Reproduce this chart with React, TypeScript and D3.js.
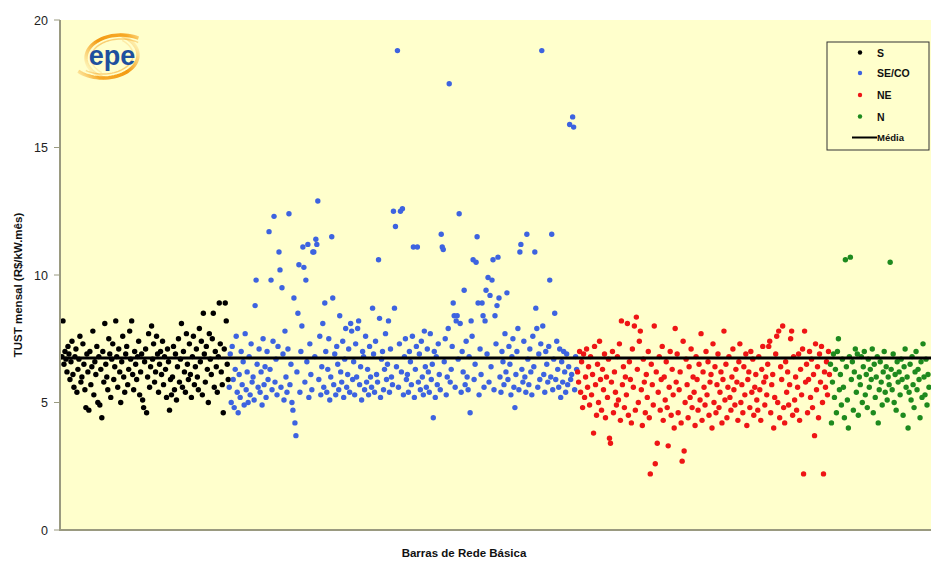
import React from "react";
import * as d3 from "d3";

const seriesNames = ["S", "SE/CO", "NE", "N"];
const seriesColors = ["#000000", "#3d63e0", "#ee1515", "#1e8a1e"];
const media = 6.75;
const yTicks = [0, 5, 10, 15, 20];

const sValues = [
  6.8, 8.2, 6.5, 7.0, 6.7, 6.2, 7.2, 6.9, 5.9, 6.6,
  7.4, 6.1, 5.6, 6.8, 7.1, 5.4, 6.3, 6.7, 7.6, 5.8,
  6.0, 7.3, 6.5, 5.5, 4.8, 6.9, 6.2, 4.7, 7.0, 5.7,
  6.4, 7.8, 5.3, 6.6, 6.1, 7.2, 5.0, 6.8, 4.9, 6.3,
  4.4, 7.0, 5.8, 8.1, 6.5, 6.0, 5.5, 7.5, 6.9, 5.2,
  6.7, 7.3, 5.9, 6.4, 8.2, 6.8, 5.6, 7.1, 6.2, 5.0,
  6.6, 7.6, 6.0, 5.4, 6.9, 7.2, 5.7, 6.3, 7.8, 6.7,
  8.2, 6.1, 5.5, 7.0, 6.5, 5.9, 6.8, 7.4, 5.3, 6.2,
  6.9, 5.1, 4.8, 6.6, 7.1, 4.6, 6.0, 7.7, 5.6, 6.4,
  8.0, 6.7, 7.3, 5.8, 6.2, 7.6, 6.9, 5.4, 6.5, 7.0,
  6.1, 7.4, 5.7, 6.8, 6.3, 5.2, 7.1, 6.6, 4.7, 5.9,
  5.3, 6.0, 7.2, 5.5, 6.9, 5.1, 6.4, 7.5, 5.8, 6.7,
  8.1, 5.6, 7.0, 6.2, 5.4, 7.7, 6.5, 5.9, 7.3, 6.1,
  5.2, 6.8, 7.6, 5.7, 6.4, 7.1, 6.0, 5.5, 7.9, 6.6,
  7.4, 5.3, 8.5, 6.9, 5.8, 7.2, 6.3, 5.0, 7.7, 6.7,
  6.1, 7.5, 8.5, 5.6, 7.0, 6.4, 5.4, 6.8, 8.9, 7.3,
  6.2, 5.7, 4.6, 7.1, 8.9, 8.2, 6.5, 5.9,
];

const seValues = [
  5.6, 6.9, 5.0, 7.2, 5.9, 4.8, 6.3, 7.6, 5.4, 4.6,
  6.1, 5.2, 7.0, 5.7, 6.6, 4.9, 7.7, 5.5, 6.2, 5.0,
  6.8, 5.3, 7.3, 5.8, 6.0, 5.1, 8.8, 9.8, 6.5, 5.6,
  7.1, 5.4, 6.2, 4.9, 7.5, 5.7, 6.4, 5.2, 7.0, 5.9,
  11.7, 6.3, 9.8, 5.5, 7.4, 12.3, 5.8, 6.7, 5.3, 7.2,
  10.9, 10.2, 5.6, 9.5, 6.9, 5.1, 7.8, 6.0, 5.4, 7.1,
  12.4, 5.7, 6.5, 5.0, 4.7, 9.1, 4.2, 3.7, 6.2, 8.5,
  10.4, 5.4, 7.0, 8.0, 11.1, 10.3, 5.8, 9.8, 6.6, 11.2,
  5.2, 7.3, 6.1, 5.5, 10.9, 10.9, 6.8, 11.4, 11.2, 12.9,
  5.9, 7.6, 5.3, 6.4, 8.1, 5.6, 8.9, 7.0, 5.4, 6.3,
  7.5, 5.1, 6.0, 11.5, 9.1, 5.7, 6.9, 5.3, 7.2, 6.5,
  5.5, 8.4, 6.2, 5.8, 7.4, 5.2, 6.7, 7.9, 5.6, 6.1,
  7.1, 5.4, 8.1, 7.8, 5.9, 6.6, 5.3, 7.3, 6.0, 7.9,
  8.2, 5.7, 6.4, 5.1, 7.0, 6.8, 5.5, 7.6, 5.8, 6.3,
  5.3, 7.2, 6.0, 5.6, 8.7, 6.9, 5.4, 7.4, 6.1, 5.8,
  10.6, 8.3, 5.2, 6.7, 7.0, 5.5, 6.3, 7.7, 5.9, 6.5,
  8.2, 5.4, 7.1, 6.0, 5.7, 12.5, 8.7, 11.9, 6.4, 18.8,
  5.6, 7.3, 12.5, 6.2, 12.6, 5.3, 6.8, 7.5, 5.9, 6.1,
  5.4, 7.0, 6.6, 5.7, 7.6, 11.1, 5.2, 6.3, 7.2, 11.1,
  5.8, 6.9, 5.5, 7.4, 6.0, 5.3, 7.8, 6.4, 5.6, 7.1,
  6.2, 5.4, 7.7, 5.9, 6.5, 4.4, 7.0, 5.2, 6.8, 5.7,
  7.3, 6.1, 5.5, 11.6, 11.1, 11.0, 6.6, 7.5, 5.3, 6.0,
  7.9, 17.5, 5.8, 6.3, 7.2, 8.9, 8.4, 5.6, 8.2, 8.4,
  6.7, 12.4, 8.1, 5.4, 7.0, 6.2, 9.4, 5.7, 7.4, 6.0,
  5.5, 6.8, 4.6, 8.2, 7.6, 10.6, 5.9, 6.5, 10.5, 11.5,
  8.9, 5.3, 7.1, 6.1, 8.9, 8.4, 5.6, 8.2, 9.4, 6.9,
  9.9, 5.8, 9.2, 6.4, 9.8, 10.6, 5.5, 8.4, 7.3, 8.8,
  10.7, 9.1, 6.0, 5.4, 7.0, 6.6, 5.7, 7.7, 6.2, 9.3,
  5.9, 7.2, 6.5, 5.3, 6.8, 7.5, 5.6, 4.8, 6.1, 7.0,
  7.9, 5.5, 10.9, 11.2, 6.3, 5.8, 7.4, 6.0, 5.4, 11.6,
  6.7, 5.7, 7.1, 6.2, 5.3, 7.6, 6.4, 10.9, 8.7, 7.9,
  5.6, 6.9, 5.9, 7.3, 18.8, 8.0, 6.1, 5.4, 7.0, 6.5,
  5.8, 7.2, 9.8, 6.0, 11.6, 5.5, 6.7, 8.5, 5.9, 7.4,
  6.3, 5.6, 7.1, 5.2, 6.6, 5.8, 7.0, 6.2, 5.4, 6.9,
  5.7, 6.4, 15.9, 5.9, 6.1, 16.2, 15.8, 5.5, 6.8, 6.3,
];

const neValues = [
  6.2, 5.8, 7.0, 5.4, 6.6, 4.8, 6.9, 5.2, 6.0, 7.1,
  5.6, 6.4, 4.9, 6.8, 5.3, 6.1, 3.8, 7.2, 5.7, 4.5,
  6.5, 5.0, 7.4, 5.9, 4.7, 6.3, 5.5, 6.9, 4.4, 6.0,
  5.2, 6.7, 3.6, 3.4, 5.8, 7.0, 4.6, 6.2, 5.4, 4.9,
  6.8, 5.1, 7.3, 4.3, 8.2, 5.7, 6.4, 4.8, 6.0, 5.3,
  8.1, 4.5, 6.6, 5.9, 4.2, 7.1, 5.6, 8.0, 4.7, 8.35,
  6.3, 5.0, 7.4, 7.8, 5.5, 4.1, 6.7, 5.8, 4.6, 6.1,
  5.2, 7.0, 4.4, 2.2, 6.5, 5.7, 4.9, 8.0, 2.6, 6.2,
  3.4, 5.4, 6.8, 4.7, 5.9, 7.2, 4.3, 6.0, 5.1, 6.6,
  4.8, 3.3, 5.6, 7.0, 4.5, 6.3, 5.3, 4.0, 7.9, 5.8,
  6.9, 4.6, 5.5, 6.2, 4.2, 2.7, 7.4, 3.1, 5.0, 6.7,
  5.7, 4.4, 6.4, 5.2, 7.1, 4.8, 6.0, 5.4, 4.1, 6.8,
  5.9, 4.7, 6.5, 5.1, 7.7, 4.3, 6.2, 5.6, 4.9, 7.0,
  5.3, 6.6, 4.5, 5.8, 6.1, 4.0, 7.3, 5.0, 6.4, 4.6,
  5.7, 6.9, 4.8, 5.4, 6.2, 4.2, 5.9, 7.8, 5.1, 6.5,
  4.4, 5.6, 6.8, 5.2, 4.7, 6.0, 7.1, 5.5, 4.9, 6.3,
  5.8, 4.3, 6.6, 7.3, 5.0, 5.7, 4.6, 6.4, 5.3, 6.9,
  4.1, 5.9, 6.2, 4.8, 7.0, 5.4, 6.7, 4.5, 5.6, 6.1,
  5.1, 4.7, 6.8, 5.5, 4.3, 6.3, 7.2, 5.8, 4.9, 6.0,
  5.3, 6.5, 7.2, 7.4, 4.6, 5.7, 6.1, 4.0, 5.2, 6.9,
  7.6, 5.0, 7.8, 4.4, 6.4, 5.9, 8.0, 4.8, 4.2, 6.6,
  5.4, 6.2, 4.9, 5.7, 7.5, 7.8, 4.5, 6.8, 5.1, 6.0,
  4.7, 5.6, 6.9, 4.3, 6.3, 5.3, 7.1, 2.2, 7.8, 5.8,
  6.5, 4.6, 5.9, 7.0, 5.2, 6.7, 4.8, 6.1, 3.7, 7.3,
  5.5, 6.4, 4.4, 6.9, 5.8, 7.2, 5.0, 2.2, 6.2, 5.6,
  6.6, 5.3, 7.0, 6.1,
];

const nValues = [
  6.5, 4.2, 5.8, 6.9, 5.2, 6.3, 4.6, 7.0, 7.5, 5.5,
  6.1, 4.9, 6.7, 5.6, 4.4, 10.6, 6.4, 5.1, 4.0, 6.8,
  10.7, 5.9, 6.6, 4.7, 6.2, 7.1, 5.4, 6.9, 4.5, 6.0,
  5.7, 6.8, 5.0, 6.4, 7.0, 5.3, 6.1, 4.8, 6.7, 5.6,
  6.3, 5.9, 7.1, 4.6, 6.5, 5.2, 6.0, 6.8, 4.2, 5.5,
  6.6, 5.8, 4.9, 6.2, 7.0, 5.4, 6.4, 5.1, 6.0, 5.7,
  10.5, 6.3, 5.5, 6.9, 5.0, 6.1, 4.7, 6.6, 5.8, 6.2,
  5.3, 6.7, 5.9, 4.5, 6.4, 7.1, 5.6, 6.0, 4.0, 5.4,
  6.5, 5.1, 6.8, 5.7, 4.8, 6.2, 7.0, 5.5, 6.3, 5.9,
  4.4, 6.6, 5.2, 7.3, 6.0, 5.3, 6.7, 4.9, 6.1, 5.6,
];

const allSeries = [sValues, seValues, neValues, nValues];

const W = 931;
const H = 563;
const plotLeft = 60;
const plotRight = 931;
const plotTop = 20;
const plotBottom = 530;

function ellipseArc(cx: number, cy: number, rx: number, ry: number, a0: number, a1: number) {
  const pts: [number, number][] = d3.range(0, 41).map((k) => {
    const a = ((a0 + ((a1 - a0) * k) / 40) * Math.PI) / 180;
    return [cx + rx * Math.cos(a), cy + ry * Math.sin(a)];
  });
  return d3.line()(pts) || "";
}

export default function App() {
  const total = allSeries.reduce((a, s) => a + s.length, 0);
  const x = d3.scaleLinear().domain([0, total - 1]).range([62, 929]);
  const y = d3.scaleLinear().domain([0, 20]).range([plotBottom, plotTop]);

  const points: { cx: number; cy: number; color: string }[] = [];
  let offset = 0;
  allSeries.forEach((vals, si) => {
    vals.forEach((v, i) => {
      points.push({ cx: x(offset + i), cy: y(v), color: seriesColors[si] });
    });
    offset += vals.length;
  });

  const legendX = 827;
  const legendY = 42;
  const legendRows = [52.5, 73, 95, 116.5, 137.5];

  return (
    <svg
      width={W}
      height={H}
      style={{ position: "absolute", left: 0, top: 0, background: "#fff" }}
      fontFamily="Liberation Sans, Arial, sans-serif"
    >
      <defs>
        <clipPath id="plotClip">
          <rect x={plotLeft} y={plotTop} width={plotRight - plotLeft} height={plotBottom - plotTop} />
        </clipPath>
        <linearGradient id="leftArc" gradientUnits="userSpaceOnUse" x1="130" y1="30" x2="75" y2="78">
          <stop offset="0%" stopColor="#f6a21a" stopOpacity={0} />
          <stop offset="40%" stopColor="#f39a12" stopOpacity={1} />
          <stop offset="75%" stopColor="#f6a21a" stopOpacity={0.9} />
          <stop offset="100%" stopColor="#f6a21a" stopOpacity={0} />
        </linearGradient>
        <linearGradient id="rightArc" gradientUnits="userSpaceOnUse" x1="95" y1="82" x2="150" y2="34">
          <stop offset="0%" stopColor="#f6a21a" stopOpacity={0} />
          <stop offset="40%" stopColor="#f39a12" stopOpacity={1} />
          <stop offset="75%" stopColor="#f6a21a" stopOpacity={0.9} />
          <stop offset="100%" stopColor="#f6a21a" stopOpacity={0} />
        </linearGradient>
      </defs>
      <rect x={plotLeft} y={plotTop} width={plotRight - plotLeft} height={plotBottom - plotTop} fill="#ffffcc" />

      {/* logo */}
      <g>
        <path d={ellipseArc(103, 55, 35, 23, -62, 135)} fill="none" stroke="url(#leftArc)" strokeWidth={3.5} />
        <path d={ellipseArc(103, 55, 30, 19, -50, 125)} fill="none" stroke="url(#leftArc)" strokeWidth={1.5} opacity={0.5} />
        <path d={ellipseArc(121, 58, 35, 23, 118, 300)} fill="none" stroke="url(#rightArc)" strokeWidth={3.5} />
        <path d={ellipseArc(121, 58, 30, 19, 130, 305)} fill="none" stroke="url(#rightArc)" strokeWidth={1.5} opacity={0.5} />
        <text x={112} y={65} textAnchor="middle" fontSize={27} fontWeight="bold" fill="#1e509e" fontFamily="Liberation Sans, Arial, sans-serif">epe</text>
      </g>

      <g clipPath="url(#plotClip)">
        {points.map((p, i) => (
          <circle key={i} cx={p.cx} cy={p.cy} r={2.7} fill={p.color} />
        ))}
        <line x1={plotLeft} x2={plotRight} y1={y(media)} y2={y(media)} stroke="#000" strokeWidth={3} />
      </g>

      {/* axes */}
      <line x1={plotLeft} x2={plotLeft} y1={plotTop} y2={plotBottom + 1} stroke="#9a9a80" strokeWidth={2} />
      <line x1={plotLeft - 1} x2={plotRight} y1={plotBottom} y2={plotBottom} stroke="#9a9a80" strokeWidth={2} />
      {yTicks.map((t) => (
        <g key={t}>
          <line x1={plotLeft - 6} x2={plotLeft} y1={y(t)} y2={y(t)} stroke="#9a9a80" strokeWidth={1} />
          <text x={48} y={y(t) + 4.5} textAnchor="end" fontSize={12.5} fill="#222">
            {t}
          </text>
        </g>
      ))}
      <text
        transform={`translate(22, ${(plotTop + plotBottom) / 2 + 10}) rotate(-90)`}
        textAnchor="middle"
        fontSize={11.5}
        fontWeight="bold"
        fill="#111"
      >
        TUST mensal (R$/kW.mês)
      </text>
      <text x={464} y={557} textAnchor="middle" fontSize={11.5} fontWeight="bold" fill="#111">
        Barras de Rede Básica
      </text>

      {/* legend */}
      <rect x={legendX} y={legendY} width={102} height={108} fill="#ffffcc" stroke="#333" strokeWidth={1} />
      {seriesNames.map((name, i) => (
        <g key={name}>
          <circle cx={860} cy={legendRows[i]} r={2.2} fill={seriesColors[i]} />
          <text x={877} y={legendRows[i] + 4} fontSize={10.5} fontWeight="bold" fill="#111">
            {name}
          </text>
        </g>
      ))}
      <line x1={852} x2={877} y1={legendRows[4]} y2={legendRows[4]} stroke="#000" strokeWidth={2} />
      <text x={877} y={legendRows[4] + 3.5} fontSize={9.5} fontWeight="bold" fill="#111">
        Média
      </text>
    </svg>
  );
}
